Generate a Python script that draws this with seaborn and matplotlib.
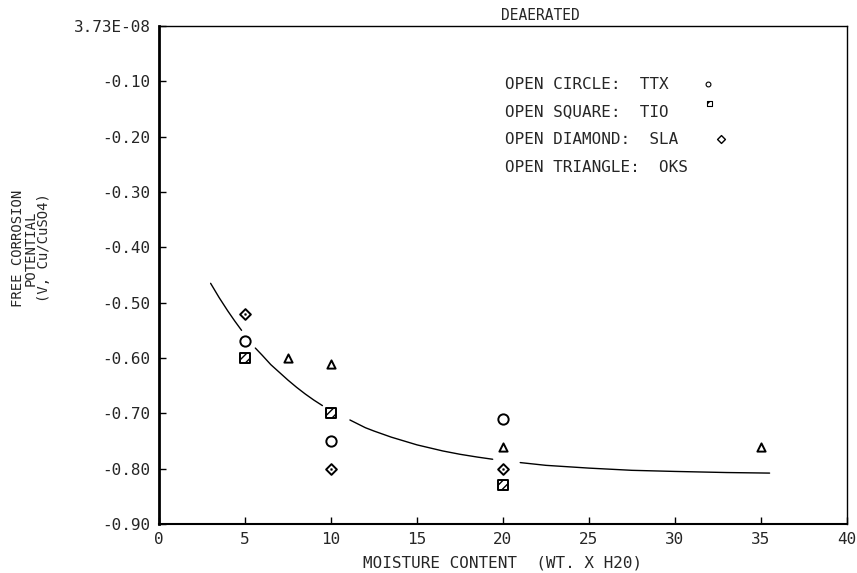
import numpy as np
import pandas as pd
import matplotlib
matplotlib.use("Agg")
import matplotlib.pyplot as plt
import seaborn as sns

# ---- data ----
ttx_x = [5, 10, 20]
ttx_y = [-0.57, -0.75, -0.71]
tio_x = [5, 10, 20]
tio_y = [-0.60, -0.70, -0.83]
sla_x = [5, 10, 20]
sla_y = [-0.52, -0.80, -0.80]
oks_x = [7.5, 10, 20, 35]
oks_y = [-0.60, -0.61, -0.76, -0.76]

# fitted curve (segments broken around the markers, as drawn)
curve_x = [3.0, 3.5, 4.0, 4.4, 4.8,
           5.6, 6.0, 6.5, 7.0, 7.5, 8.0, 8.5, 9.0, 9.5,
           11.1, 12.0, 12.5, 13.5, 15.0, 16.5, 17.5, 18.5, 19.4,
           21.0, 22.5, 25.0, 27.5, 30.0, 33.0, 35.5]
curve_y = [-0.465, -0.491, -0.515, -0.533, -0.550,
           -0.582, -0.595, -0.612, -0.626, -0.640, -0.653, -0.665, -0.676, -0.686,
           -0.712, -0.726, -0.732, -0.743, -0.757, -0.768, -0.774, -0.779, -0.783,
           -0.789, -0.794, -0.799, -0.803, -0.805, -0.807, -0.808]
curve_seg = [0] * 5 + [1] * 9 + [2] * 9 + [3] * 7

xticks = [0, 5, 10, 15, 20, 25, 30, 35, 40]
yticks = [0.0, -0.1, -0.2, -0.3, -0.4, -0.5, -0.6, -0.7, -0.8, -0.9]
ytick_labels = ["3.73E-08", "-0.10", "-0.20", "-0.30", "-0.40", "-0.50",
                "-0.60", "-0.70", "-0.80", "-0.90"]
legend_lines = ["OPEN CIRCLE:  TTX", "OPEN SQUARE:  TIO", "OPEN DIAMOND:  SLA", "OPEN TRIANGLE:  OKS"]

sns.set_theme(style="white")
plt.rcParams['font.family'] = ['DejaVu Sans Mono']
FS = 11.5

fig = plt.figure(figsize=(8.57, 5.73), dpi=100)
ax = fig.add_axes([159/857, 1 - 524/573, (847 - 159)/857, (524 - 26)/573])

curve_df = pd.DataFrame({"x": curve_x, "y": curve_y, "seg": curve_seg})
sns.lineplot(data=curve_df, x="x", y="y", units="seg", estimator=None, sort=False,
             color="black", linewidth=1.0, ax=ax, legend=False)

common = dict(facecolor="white", edgecolor="black", linewidth=1.4, ax=ax, legend=False, zorder=3)
sns.scatterplot(x=ttx_x, y=ttx_y, marker="o", s=55, **common)
sns.scatterplot(x=tio_x, y=tio_y, marker="s", s=55, hatch="////", **common)
sns.scatterplot(x=sla_x, y=sla_y, marker="D", s=30, **common)
sns.scatterplot(x=sla_x, y=sla_y, marker="o", s=4, color="black", ax=ax, legend=False, zorder=4)
sns.scatterplot(x=oks_x, y=oks_y, marker="^", s=35, **common)

ax.set_xlim(0, 40)
ax.set_ylim(-0.9, 0.0)
ax.set_xticks(xticks)
ax.set_xticklabels([str(t) for t in xticks], fontsize=FS)
ax.set_yticks(yticks)
ax.set_yticklabels(ytick_labels, fontsize=FS)
ax.tick_params(direction="in", length=5, width=1, color="black", pad=6,
               bottom=True, left=True, top=False, right=False)
for side, sp in ax.spines.items():
    sp.set_color("black")
    sp.set_linewidth(1.0)
ax.spines["left"].set_linewidth(2.0)
ax.spines["bottom"].set_linewidth(1.5)

ax.set_xlabel("MOISTURE CONTENT  (WT. X H20)", fontsize=FS, labelpad=6)
ax.set_ylabel("")
fig.text(31/857, 1 - 248/573, "FREE CORROSION\nPOTENTIAL\n(V, Cu/CuSO4)",
         rotation=90, ha="center", va="center", fontsize=FS - 1.5, linespacing=0.95,
         multialignment="center")

ax.text(22.2, 0.005, "DEAERATED", ha="center", va="bottom", fontsize=FS - 1)

# legend block as text
leg_y = [-0.105, -0.155, -0.205, -0.255]
for txt, yy in zip(legend_lines, leg_y):
    ax.text(20.1, yy, txt, ha="left", va="center", fontsize=FS)
sns.scatterplot(x=[31.9], y=[-0.105], marker="o", s=12, facecolor="white",
                edgecolor="black", linewidth=0.8, ax=ax, legend=False)
sns.scatterplot(x=[32.0], y=[-0.14], marker="s", s=12, facecolor="white",
                edgecolor="black", linewidth=0.8, hatch="///", ax=ax, legend=False)
sns.scatterplot(x=[32.7], y=[-0.205], marker="D", s=16, facecolor="white",
                edgecolor="black", linewidth=1.0, ax=ax, legend=False)

fig.savefig("out.png", dpi=100)
